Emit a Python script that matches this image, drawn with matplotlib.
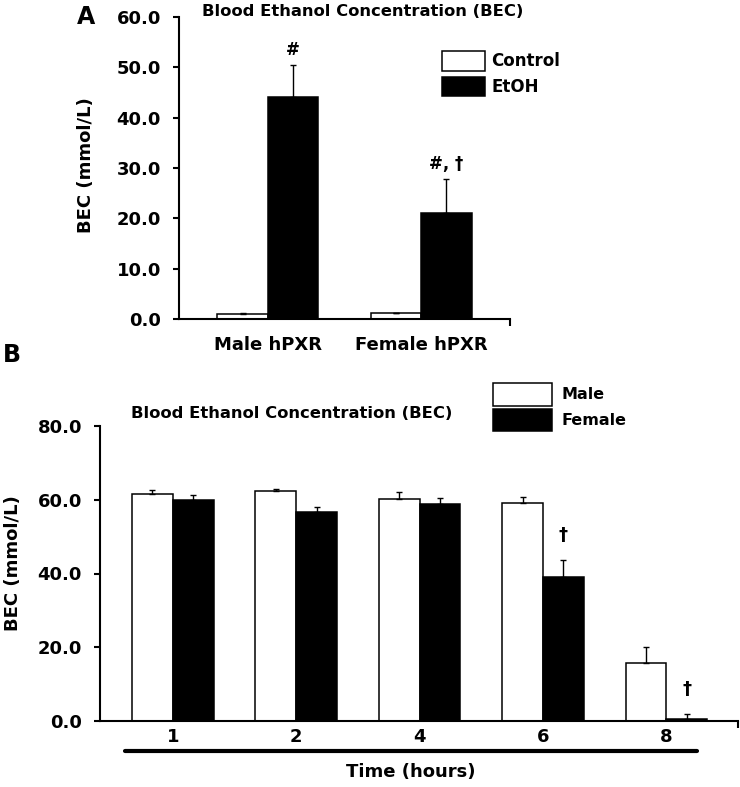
import matplotlib
matplotlib.use("Agg")
import matplotlib.pyplot as plt
import numpy as np
from matplotlib.patches import Patch

plt.rcParams['font.family'] = ['DejaVu Sans']
plt.rcParams['font.weight'] = 'bold'

# ---------------- Data ----------------
groups_a = ["Male hPXR", "Female hPXR"]
control_a = [1.0, 1.1]
control_err_a = [0.15, 0.15]
etoh_a = [44.1, 21.0]
etoh_err_a = [6.4, 6.8]
annot_a = ["#", "#, \u2020"]

hours_b = ["1", "2", "4", "6", "8"]
male_b = [61.5, 62.3, 60.3, 59.1, 15.6]
male_err_b = [1.1, 0.6, 1.8, 1.6, 4.6]
female_b = [59.8, 56.6, 58.9, 39.0, 0.6]
female_err_b = [1.4, 1.5, 1.7, 4.6, 1.4]
annot_b = ["", "", "", "\u2020", "\u2020"]

W, H = 740, 787
fig = plt.figure(figsize=(W / 100, H / 100), dpi=100)


def px(x, y):
    return x / W, 1 - y / H


def style_axes(ax, xlim, ylim, yticks, fmt):
    ax.set_xlim(*xlim)
    ax.set_ylim(*ylim)
    for s in ['top', 'right']:
        ax.spines[s].set_visible(False)
    for s in ['left', 'bottom']:
        ax.spines[s].set_linewidth(1.5)
    ax.set_yticks(yticks)
    ax.set_yticklabels([fmt.format(v) for v in yticks])
    ax.tick_params(axis='y', direction='out', length=4, width=1.5, labelsize=13, pad=9)
    ax.tick_params(axis='x', which='major', length=0)
    ax.set_xticks([xlim[1]], minor=True)
    ax.tick_params(axis='x', which='minor', direction='out', length=5, width=1.5)


bw = 0.33

# ---------------- Panel A ----------------
axA = fig.add_axes([179 / W, 468 / H, 331 / W, 302 / H])
xa = np.arange(len(groups_a))
axA.bar(xa - bw / 2, control_a, bw, color='white', edgecolor='black', linewidth=1.1, zorder=2)
axA.bar(xa + bw / 2, etoh_a, bw, color='black', edgecolor='black', linewidth=1.1, zorder=2)
axA.errorbar(xa - bw / 2, control_a, yerr=[np.zeros(2), control_err_a], fmt='none',
             ecolor='black', elinewidth=1, capsize=2.5, capthick=1, zorder=3)
axA.errorbar(xa + bw / 2, etoh_a, yerr=[np.zeros(2), etoh_err_a], fmt='none',
             ecolor='black', elinewidth=1, capsize=2.5, capthick=1, zorder=3)
style_axes(axA, (-0.58, 1.58), (0, 60), np.arange(0, 61, 10), "{:.1f}")
axA.set_xticks(xa)
axA.set_xticklabels(groups_a, fontsize=13)
axA.tick_params(axis='x', which='major', pad=12)
for i in range(len(groups_a)):
    axA.annotate(annot_a[i], (xa[i] + bw / 2, etoh_a[i] + etoh_err_a[i]),
                 xytext=(0, 11), textcoords='offset points', ha='center', va='center',
                 fontsize=12, fontweight='bold')
legA = axA.legend(handles=[Patch(facecolor='white', edgecolor='black', linewidth=1.1),
                           Patch(facecolor='black', edgecolor='black', linewidth=1.1)],
                  labels=["Control", "EtOH"], loc='upper left',
                  bbox_to_anchor=px(442, 51), bbox_transform=fig.transFigure,
                  frameon=False, fontsize=12, handlelength=2.6, handleheight=1.45,
                  labelspacing=0.35, handletextpad=0.35, borderpad=0, borderaxespad=0)

fig.text(*px(363, 12), "Blood Ethanol Concentration (BEC)", ha='center', va='center',
         fontsize=11.8, fontweight='bold')
fig.text(*px(86, 165), "BEC (mmol/L)", rotation=90, ha='center', va='center',
         fontsize=13, fontweight='bold')
fig.text(*px(86, 17), "A", ha='center', va='center', fontsize=17, fontweight='bold')

# ---------------- Panel B ----------------
axB = fig.add_axes([100 / W, 66 / H, 638 / W, 295 / H])
xb = np.arange(len(hours_b))
axB.bar(xb - bw / 2, male_b, bw, color='white', edgecolor='black', linewidth=1.1, zorder=2)
axB.bar(xb + bw / 2, female_b, bw, color='black', edgecolor='black', linewidth=1.1, zorder=2)
axB.errorbar(xb - bw / 2, male_b, yerr=[np.zeros(5), male_err_b], fmt='none',
             ecolor='black', elinewidth=1, capsize=2.5, capthick=1, zorder=3)
axB.errorbar(xb + bw / 2, female_b, yerr=[np.zeros(5), female_err_b], fmt='none',
             ecolor='black', elinewidth=1, capsize=2.5, capthick=1, zorder=3)
style_axes(axB, (-0.59, 4.58), (0, 80), np.arange(0, 81, 20), "{:.1f}")
axB.set_xticks(xb)
axB.set_xticklabels(hours_b, fontsize=13)
axB.tick_params(axis='x', which='major', pad=5)
for i in range(len(hours_b)):
    if annot_b[i]:
        axB.annotate(annot_b[i], (xb[i] + bw / 2, female_b[i] + female_err_b[i]),
                     xytext=(0, 18), textcoords='offset points', ha='center', va='center',
                     fontsize=13, fontweight='bold')
axB.plot([0.039, 0.936], [-0.102, -0.102], transform=axB.transAxes, color='black',
         linewidth=3, clip_on=False, solid_capstyle='round')
legB = axB.legend(handles=[Patch(facecolor='white', edgecolor='black', linewidth=1.1),
                           Patch(facecolor='black', edgecolor='black', linewidth=1.1)],
                  labels=["Male", "Female"], loc='upper left',
                  bbox_to_anchor=px(493, 383), bbox_transform=fig.transFigure,
                  frameon=False, fontsize=11.5, handlelength=3.7, handleheight=1.8,
                  labelspacing=0.2, handletextpad=0.6, borderpad=0, borderaxespad=0)

fig.text(*px(292, 413), "Blood Ethanol Concentration (BEC)", ha='center', va='center',
         fontsize=11.8, fontweight='bold')
fig.text(*px(13, 563), "BEC (mmol/L)", rotation=90, ha='center', va='center',
         fontsize=13, fontweight='bold')
fig.text(*px(12, 355), "B", ha='center', va='center', fontsize=17, fontweight='bold')
fig.text(*px(411, 772), "Time (hours)", ha='center', va='center',
         fontsize=13, fontweight='bold')

fig.savefig("out.png", dpi=100)
